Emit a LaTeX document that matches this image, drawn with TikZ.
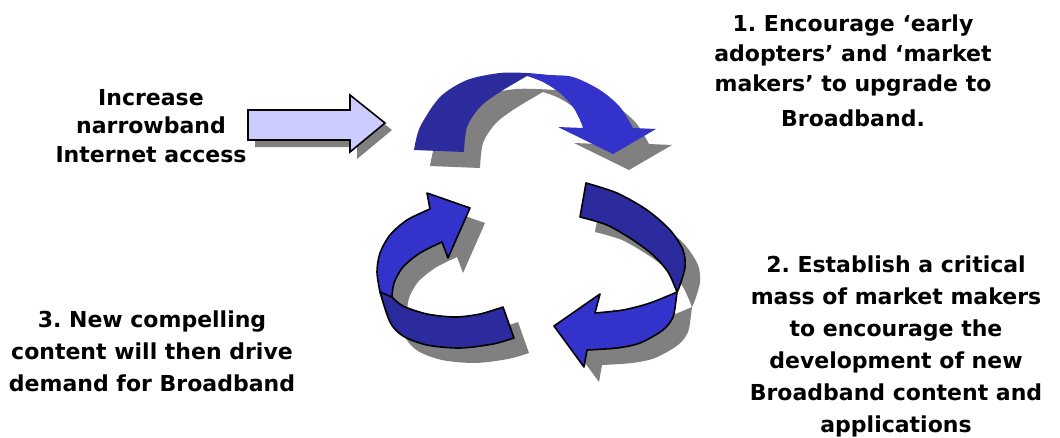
\documentclass[tikz,border=0pt]{standalone}
\usepackage{fontspec}
\setmainfont{DejaVu Sans}
\frenchspacing

\definecolor{bandlight}{RGB}{51,51,204}
\definecolor{banddark}{RGB}{43,43,158}
\definecolor{shadowgray}{RGB}{128,128,128}
\definecolor{lavender}{RGB}{204,204,255}

% outlines of the three ribbon arrows (used for shadows)
\newcommand{\cycletop}{plot[smooth] coordinates {(414,150) (420,127) (440,97) (467,80) (500,73) (540,74) (573,77) (600,90) (620,107) (633,128)}
  -- (656,129) -- (613,154) -- (558,127) -- (583,128)
  -- plot[smooth] coordinates {(583,128) (580,120) (573,107) (560,93) (543,82) (527,76)}
  -- plot[smooth] coordinates {(527,76) (500,92) (480,107) (467,127) (464,152)} -- cycle}
\newcommand{\cycleleft}{plot[smooth] coordinates {(514,338) (493,344) (460,348) (427,345) (403,336) (390,322) (380,292)}
  -- plot[smooth] coordinates {(380,292) (377,272) (380,253) (390,235) (407,220) (430,209)}
  -- (427,193) -- (470,208) -- (448,258) -- (442,242)
  -- plot[smooth] coordinates {(442,242) (420,253) (403,267) (394,283) (392,297)}
  -- plot[smooth] coordinates {(392,297) (403,306) (427,314) (455,317) (480,314) (503,307)} -- cycle}
\newcommand{\cycleright}{plot[smooth] coordinates {(586,183) (617,193) (647,210) (670,230) (683,250) (685,267) (680,285) (677,292)}
  -- plot[smooth] coordinates {(677,292) (676,300) (673,317) (663,330) (640,343) (617,348) (587,350)}
  -- (584,367) -- (554,326) -- (600,294) -- (595,313)
  -- plot[smooth] coordinates {(595,313) (623,310) (650,303) (677,292)}
  -- plot[smooth] coordinates {(677,292) (668,272) (653,255) (633,240) (607,225) (580,217)} -- cycle}
\newcommand{\feedshape}{(248,110) -- (350,110) -- (350,95) -- (385,123) -- (350,152) -- (350,140) -- (248,140) -- cycle}

\begin{document}
\begin{tikzpicture}[x=1pt,y=-1pt,
    caption/.style={align=center,inner sep=0pt,anchor=north,font=\bfseries\fontsize{22}{#1}\selectfont},
    caption/.default=30,
    ribbon/.style={draw=black,line width=1.6pt,line join=round}]
  \useasboundingbox (0,0) rectangle (1060,437);

  % Shadows
  \fill[shadowgray,shift={(7,7)}] \feedshape;
  \fill[shadowgray,shift={(16,16)}] \cycletop;
  \fill[shadowgray,shift={(15,15)}] \cycleleft;
  \fill[shadowgray,shift={(15,15)}] \cycleright;

  % Input arrow
  \draw[fill=lavender,line width=1.6pt,line join=miter] \feedshape;

  % Top ribbon (no outline)
  \fill[banddark] plot[smooth] coordinates {(414,150) (420,127) (440,97) (467,80) (500,73) (527,73) (548,75)}
    -- (527,76) -- plot[smooth] coordinates {(527,76) (500,92) (480,107) (467,127) (464,152)} -- cycle;
  \fill[bandlight] plot[smooth] coordinates {(530,74) (548,75) (573,77) (600,90) (620,107) (633,128)}
    -- (656,129) -- (613,154) -- (558,127) -- (583,128)
    -- plot[smooth] coordinates {(583,128) (580,120) (573,107) (560,93) (543,82) (527,76)} -- cycle;

  % Right ribbon
  \draw[ribbon,fill=banddark] plot[smooth] coordinates {(586,183) (617,193) (647,210) (670,230) (683,250) (685,267) (680,285) (677,292)}
    -- plot[smooth] coordinates {(677,292) (668,272) (653,255) (633,240) (607,225) (580,217)} -- cycle;
  \draw[ribbon,fill=bandlight] plot[smooth] coordinates {(677,292) (676,300) (673,317) (663,330) (640,343) (617,348) (587,350)}
    -- (584,367) -- (554,326) -- (600,294) -- (595,313)
    -- plot[smooth] coordinates {(595,313) (623,310) (650,303) (677,292)} -- cycle;

  % Left ribbon
  \draw[ribbon,fill=banddark] plot[smooth] coordinates {(514,338) (493,344) (460,348) (427,345) (403,336) (390,322) (380,292)}
    -- (392,297) -- plot[smooth] coordinates {(392,297) (403,306) (427,314) (455,317) (480,314) (503,307)} -- cycle;
  \draw[ribbon,fill=bandlight] plot[smooth] coordinates {(380,292) (377,272) (380,253) (390,235) (407,220) (430,209)}
    -- (427,193) -- (470,208) -- (448,258) -- (442,242)
    -- plot[smooth] coordinates {(442,242) (420,253) (403,267) (394,283) (392,297)} -- cycle;

  % Labels
  \node[caption=28.5] (feed) at (151,89) {Increase\\narrowband\\Internet access};
  \node[caption] (stepone) at (853,15) {1. Encourage ‘early\\adopters’ and ‘market\\makers’ to upgrade to\\[5pt]Broadband.};
  \node[caption=32] (steptwo) at (896,256) {2. Establish a critical\\mass of market makers\\to encourage the\\development of new\\Broadband content and\\applications};
  \node[caption=32] (stepthree) at (152,311) {3. New compelling\\content will then drive\\demand for Broadband};
\end{tikzpicture}
\end{document}
